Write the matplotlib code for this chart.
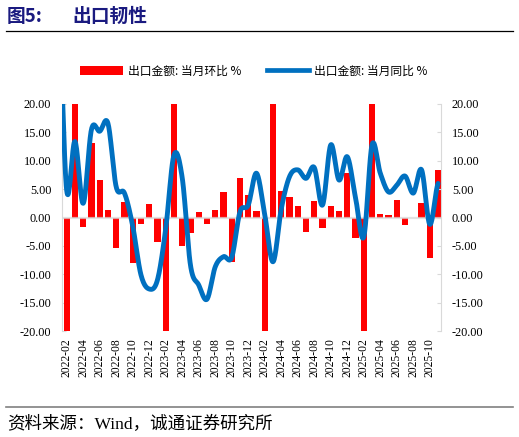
import numpy as np
import matplotlib
matplotlib.use("Agg")
import matplotlib.pyplot as plt
from matplotlib.patches import Patch
from matplotlib.lines import Line2D

plt.rcParams['axes.unicode_minus'] = False
plt.rcParams['font.family'] = ['Liberation Serif', 'Noto Sans CJK SC', 'DejaVu Sans']

# ---- data ----
months = ["2022-01",
          "2022-02", "2022-03", "2022-04", "2022-05", "2022-06", "2022-07", "2022-08", "2022-09",
          "2022-10", "2022-11", "2022-12", "2023-01", "2023-02", "2023-03", "2023-04", "2023-05",
          "2023-06", "2023-07", "2023-08", "2023-09", "2023-10", "2023-11", "2023-12", "2024-01",
          "2024-02", "2024-03", "2024-04", "2024-05", "2024-06", "2024-07", "2024-08", "2024-09",
          "2024-10", "2024-11", "2024-12", "2025-01", "2025-02", "2025-03", "2025-04", "2025-05",
          "2025-06", "2025-07", "2025-08", "2025-09", "2025-10", "2025-11"]
# 出口金额: 当月环比 % (2022-01 not shown)
mom = [np.nan,
       -34.0, 27.0, -1.6, 13.1, 6.6, 1.4, -5.4, 2.7,
       -8.1, -1.2, 2.3, -4.4, -27.0, 47.0, -5.0, -2.7,
       1.0, -1.1, 1.3, 4.5, -7.8, 6.9, 4.0, 1.1,
       -28.0, 27.0, 4.7, 3.6, 2.1, -2.5, 2.9, -1.8,
       2.0, 1.1, 7.9, -3.7, -36.0, 46.0, 0.7, 0.4,
       3.1, -1.3, 0.0, 2.5, -7.2, 8.4]
# 出口金额: 当月同比 % (2022-01 lies left of the visible range)
yoy = [38.0,
       4.8, 13.4, 2.5, 15.5, 15.2, 16.6, 5.4, 4.3,
       -1.5, -10.1, -12.6, -11.0, -2.0, 11.0, 7.0, -8.4,
       -11.9, -14.4, -8.7, -6.9, -7.0, 1.0, 2.2, 7.8,
       0.5, -7.8, 1.5, 7.2, 8.4, 6.9, 8.8, 2.2,
       12.8, 6.6, 10.7, 3.5, -3.4, 12.8, 7.8, 4.5,
       5.7, 7.3, 4.3, 8.4, -1.2, 6.0]
yticks = [20, 15, 10, 5, 0, -5, -10, -15, -20]
label_bar = "出口金额: 当月环比 %"
label_line = "出口金额: 当月同比 %"
title_a = "图5:"
title_b = "出口韧性"
source = "资料来源：Wind，诚通证券研究所"

RED = "#FF0000"
BLUE = "#0070C0"
GRID = "#D9D9D9"


def smooth(xs, ys, n=20):
    """Catmull-Rom rendering of a smoothed line through the data points."""
    xs = np.asarray(xs, float); ys = np.asarray(ys, float)
    px = np.concatenate([[xs[0]], xs, [xs[-1]]])
    py = np.concatenate([[ys[0]], ys, [ys[-1]]])
    ox, oy = [], []
    for i in range(1, len(px) - 2):
        t = np.linspace(0, 1, n, endpoint=False)
        m0 = (py[i + 1] - py[i - 1]) / 2
        m1 = (py[i + 2] - py[i]) / 2
        h00 = 2*t**3 - 3*t**2 + 1
        h10 = t**3 - 2*t**2 + t
        h01 = -2*t**3 + 3*t**2
        h11 = t**3 - t**2
        oy.append(h00*py[i] + h10*m0 + h01*py[i+1] + h11*m1)
        ox.append(px[i] + t*(px[i+1] - px[i]))
    ox.append([xs[-1]]); oy.append([ys[-1]])
    return np.concatenate(ox), np.concatenate(oy)


W, H = 519, 437
fig = plt.figure(figsize=(W/100, H/100), dpi=100)
ax = fig.add_axes([62.3/W, 1-331/H, (440.7-62.3)/W, (331-104)/H])
ax2 = ax.twinx()

x = np.arange(len(months)) - 1  # 2022-02 -> 0

ax.bar(x, mom, width=0.76, color=RED, zorder=2)
ax.axhline(0, color=GRID, alpha=0.75, lw=1.6, zorder=3)

sx, sy = smooth(x, yoy)
ax2.plot(sx, sy, color=BLUE, lw=3.5, solid_capstyle='round', zorder=4)

for a in (ax, ax2):
    a.set_ylim(-20, 20)
    a.set_yticks(yticks)
    a.set_yticklabels([f"{v:.2f}" for v in yticks])
    a.set_xlim(-0.53, len(months) - 2 + 0.32)
    for s in a.spines.values():
        s.set_visible(False)
ax.spines['left'].set_visible(True)
ax.spines['left'].set_color(GRID)
ax2.spines['right'].set_visible(True)
ax2.spines['right'].set_color(GRID)

ax.tick_params(axis='y', direction='in', length=3, color=GRID, pad=8, labelsize=8.8, labelcolor='black')
ax2.tick_params(axis='y', direction='in', length=3, color=GRID, pad=8, labelsize=8.8, labelcolor='black')

tick_idx = list(range(1, len(months), 2))
ax.set_xticks([x[i] for i in tick_idx])
ax.set_xticklabels([months[i] for i in tick_idx], rotation=90, fontsize=8.4)
ax.tick_params(axis='x', length=0, pad=5)

# title and rules
fig.text(7/W, 1-16/H, title_a, fontsize=13.5, fontweight='bold', color='#1A1A80',
         family=['Noto Sans CJK SC'], va='center', ha='left')
fig.text(72/W, 1-16/H, title_b, fontsize=13.5, fontweight='bold', color='#1A1A80',
         family=['Noto Sans CJK SC'], va='center', ha='left')
fig.add_artist(Line2D([6/W, 513/W], [1-31/H, 1-31/H], color='black', lw=0.9))
fig.add_artist(Line2D([6/W, 513/W], [1-407/H, 1-407/H], color='#808080', lw=1.2))
fig.text(7/W, 1-424/H, source, fontsize=12.6, color='black', va='center', ha='left',
         family=['Liberation Serif', 'Noto Sans CJK SC'])

handles = [Patch(facecolor=RED, edgecolor='none'),
           Line2D([0], [0], color=BLUE, lw=3.4)]
fig.legend(handles, [label_bar, label_line], loc='center', bbox_to_anchor=(254/W, 1-71/H),
           ncol=2, frameon=False, handlelength=3.6, handleheight=0.7,
           handletextpad=0.4, columnspacing=2.2,
           prop={'family': ['Noto Sans CJK SC'], 'size': 8.5})

fig.savefig("out.png", dpi=100)
